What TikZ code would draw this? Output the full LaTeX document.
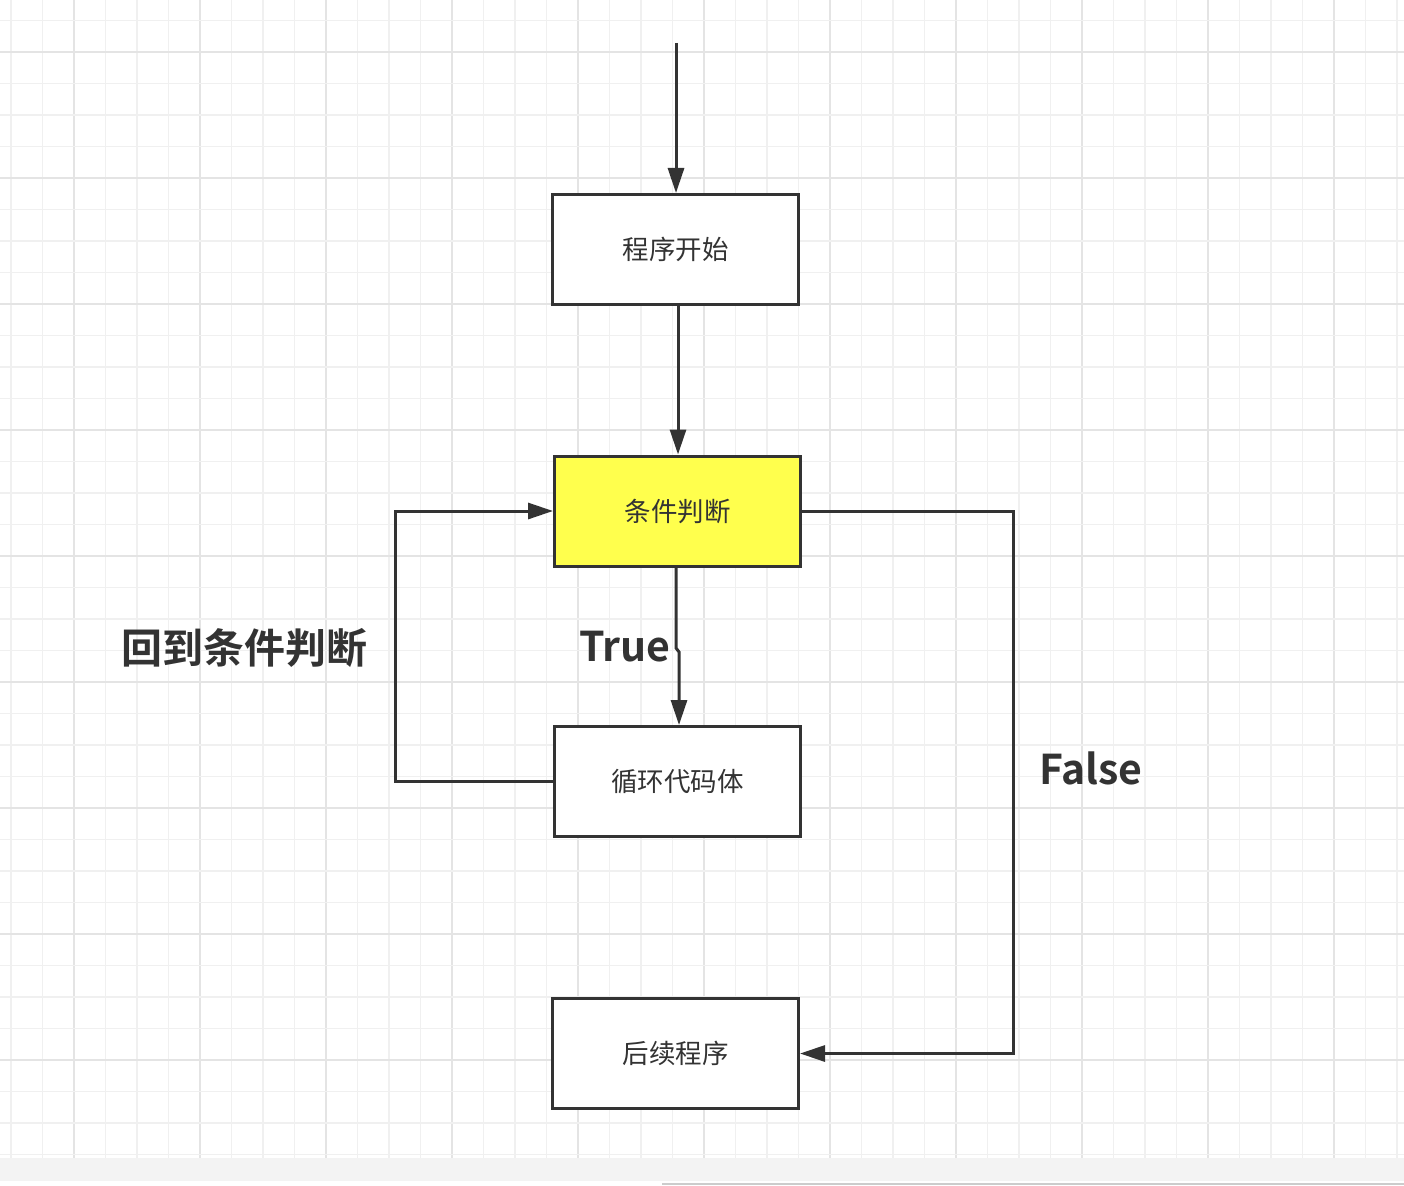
\documentclass[tikz,border=0pt]{standalone}
\usepackage{fontspec}
\newfontfamily\cjk{Noto Sans CJK SC}[BoldFont={Noto Sans CJK SC Bold}]
\usetikzlibrary{arrows.meta}
\definecolor{ink}{HTML}{333333}
\definecolor{gridminor}{HTML}{F0F0F0}
\definecolor{gridmajor}{HTML}{E4E4E4}
\definecolor{condyellow}{HTML}{FFFF4D}
\tikzset{
  flowbox/.style={draw=ink, line width=3pt, fill=white, minimum width=246pt, minimum height=110pt, inner sep=0pt, text=ink, font=\cjk\fontsize{26.5}{30}\selectfont},
  conn/.style={draw=ink, line width=3pt, -{Triangle[length=25pt,width=16pt]}},
  biglabel/.style={text=ink, font=\cjk\bfseries\fontsize{41}{48}\selectfont, inner sep=0pt},
}
\begin{document}
\begin{tikzpicture}[x=1pt,y=-1pt]
\useasboundingbox (0,0) rectangle (1404,1185);
% background
\fill[white] (0,0) rectangle (1404,1185);
% grid
\foreach \k in {0,...,44} {
  \pgfmathsetmacro{\xx}{11+31.5*\k}
  \pgfmathtruncatemacro{\m}{mod(\k,4)}
  \ifnum\m=2
    \draw[gridmajor, line width=2pt] (\xx,0) -- (\xx,1158);
  \else
    \draw[gridminor, line width=1.8pt] (\xx,0) -- (\xx,1158);
  \fi
}
\foreach \k in {0,...,36} {
  \pgfmathsetmacro{\yy}{20.5+31.5*\k}
  \pgfmathtruncatemacro{\m}{mod(\k,4)}
  \ifnum\m=1
    \draw[gridmajor, line width=2pt] (0,\yy) -- (1404,\yy);
  \else
    \draw[gridminor, line width=1.8pt] (0,\yy) -- (1404,\yy);
  \fi
}
% bottom strip
\fill[gridminor!80!white] (0,1158) rectangle (1404,1181);
\draw[black!20, line width=1.5pt] (662,1184) -- (1404,1184);

% boxes
\node[flowbox] (start) at (675.5,249.5) {程序开始};
\node[flowbox, fill=condyellow] (cond) at (677.5,511) {条件判断};
\node[flowbox] (body) at (677.5,781.5) {循环代码体};
\node[flowbox] (after) at (675.5,1053.5) {后续程序};

% connectors
\coordinate (entry) at (676,43);
\draw[conn] (entry) -- (entry |- start.north);
\draw[conn] (cond.north |- start.south) ++(0.5,0) -- ([xshift=0.5pt]cond.north);
\coordinate (jogA) at (676,648);
\coordinate (jogB) at (679,652);
\draw[conn] (jogA |- cond.south) -- (jogA) -- (jogB) -- (jogB |- body.north);
\coordinate (loopx) at (395,0);
\draw[conn] (body.west) -- (loopx |- body.west) -- (loopx |- cond.west) -- (cond.west);
\coordinate (falsex) at (1013,0);
\draw[conn] (cond.east) -- (falsex |- cond.east) -- (falsex |- after.east) -- (after.east);

% labels
\node[biglabel] (backlbl) at (244,648) {回到条件判断};
\node[biglabel, font=\cjk\bfseries\fontsize{41}{48}\selectfont] (truelbl) at (625,647) {True};
\node[biglabel, font=\cjk\bfseries\fontsize{41}{48}\selectfont] (falselbl) at (1091,768) {False};
\end{tikzpicture}
\end{document}
